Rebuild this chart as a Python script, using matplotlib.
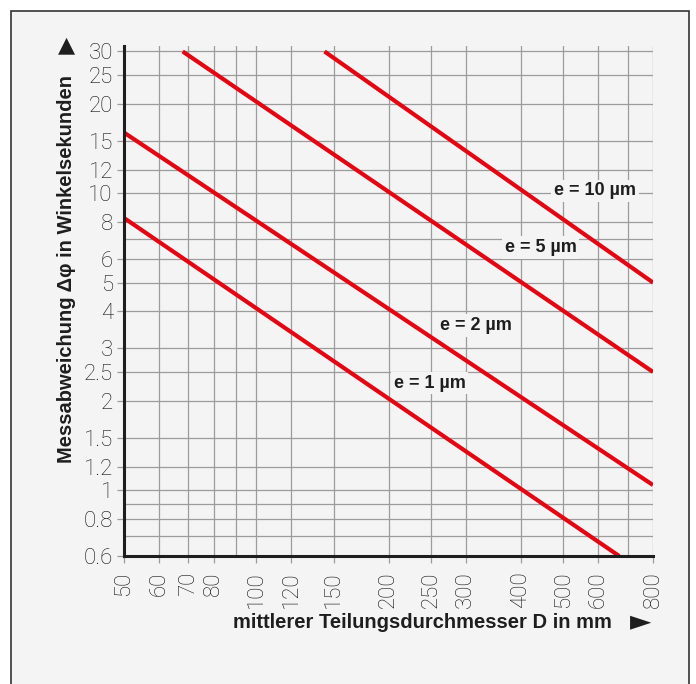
import matplotlib
matplotlib.use("Agg")
import matplotlib.pyplot as plt
from matplotlib.patches import Rectangle

# Eccentricity curves: end points of each line (D in mm, deviation in arc seconds)
ecc_um = [1, 2, 5, 10]
line_d = [[50, 670], [50, 800], [68, 800], [143, 800]]
line_phi = [[8.25, 0.6], [16.0, 1.04], [30, 2.5], [30, 5.0]]
curve_labels = ["e = 1 µm", "e = 2 µm", "e = 5 µm", "e = 10 µm"]

x_ticks = [50, 60, 70, 80, 100, 120, 150, 200, 250, 300, 400, 500, 600, 800]
x_tick_labels = ["50", "60", "70", "80", "100", "120", "150", "200", "250",
                 "300", "400", "500", "600", "800"]
x_extra_grid = [90, 700]
y_ticks = [0.6, 0.8, 1, 1.2, 1.5, 2, 2.5, 3, 4, 5, 6, 8, 10, 12, 15, 20, 25, 30]
y_tick_labels = ["0.6", "0.8", "1", "1.2", "1.5", "2", "2.5", "3", "4", "5",
                 "6", "8", "10", "12", "15", "20", "25", "30"]
y_extra_grid = [0.7, 0.9, 7]

BG = "#f4f4f4"
RED = "#e30613"
INK = "#1e1e1e"
GRID = "#9c9c9c"

fig = plt.figure(figsize=(6.96, 6.84), dpi=100)
fig.patch.set_facecolor("white")

# panel frame behind everything
fig.patches.append(Rectangle((11 / 696, -0.05), (689 - 11) / 696, 1.05 - 11 / 684,
                             transform=fig.transFigure, facecolor=BG,
                             edgecolor="#333333", linewidth=1.2, zorder=-10))

ax = fig.add_axes([124 / 696, (684 - 556) / 684, (653 - 124) / 696, (556 - 46) / 684])
ax.set_facecolor(BG)
ax.set_xscale("log")
ax.set_yscale("log")
ax.set_xlim(50, 800)
ax.set_ylim(0.6, 31.3)

# grid lines
for xv in x_ticks + x_extra_grid:
    ax.axvline(xv, color=GRID, lw=0.9, zorder=1)
for yv in y_ticks + y_extra_grid:
    if yv <= 30:
        ax.axhline(yv, color=GRID, lw=0.9, zorder=1)

ax.xaxis.set_minor_locator(matplotlib.ticker.NullLocator())
ax.yaxis.set_minor_locator(matplotlib.ticker.NullLocator())
ax.set_xticks(x_ticks)
ax.set_xticklabels(x_tick_labels, rotation=90, fontfamily="Roboto",
                   fontweight="light", fontsize=16, color="#111111")
ax.set_yticks(y_ticks)
ax.set_yticklabels(y_tick_labels, fontfamily="Roboto", fontweight="light",
                   fontsize=16, color="#111111")
ax.tick_params(axis="x", length=5, width=0.9, color=GRID, pad=6)
ax.tick_params(axis="y", length=5, width=0.9, color=GRID, pad=3)

for side in ("top", "right"):
    ax.spines[side].set_visible(False)
for side in ("left", "bottom"):
    ax.spines[side].set_color(INK)
    ax.spines[side].set_linewidth(2.2)
    ax.spines[side].set_zorder(5)

for d, p in zip(line_d, line_phi):
    ax.plot(d, p, color=RED, lw=3.0, solid_capstyle="butt", zorder=4)

label_pos = [(0.5775, 0.339), (0.665, 0.452), (0.788, 0.605), (0.890, 0.716)]
for txt, (lx, ly) in zip(curve_labels, label_pos):
    ax.text(lx, ly, txt, transform=ax.transAxes, ha="center", va="center",
            fontsize=13, fontweight="bold", color=INK, zorder=3,
            fontfamily="Liberation Sans",
            bbox=dict(boxstyle="square,pad=0.15", fc=BG, ec="none"))

fig.text(67 / 696, (684 - 269) / 684, "Messabweichung Δφ in Winkelsekunden",
         rotation=90, ha="center", va="center", fontsize=14.5,
         fontweight="bold", color=INK, fontfamily="Liberation Sans")
fig.text(67 / 696, (684 - 45) / 684, "▲", ha="center", va="center",
         fontsize=16, color=INK, fontfamily="DejaVu Sans")
fig.text(422 / 696, (684 - 622) / 684, "mittlerer Teilungsdurchmesser D in mm",
         ha="center", va="center", fontsize=14.5, fontweight="bold",
         color=INK, fontfamily="Liberation Sans")
fig.text(641 / 696, (684 - 621) / 684, "►", ha="center", va="center",
         fontsize=20, color=INK, fontfamily="DejaVu Sans")

fig.savefig("out.png", dpi=100, facecolor=fig.get_facecolor())
